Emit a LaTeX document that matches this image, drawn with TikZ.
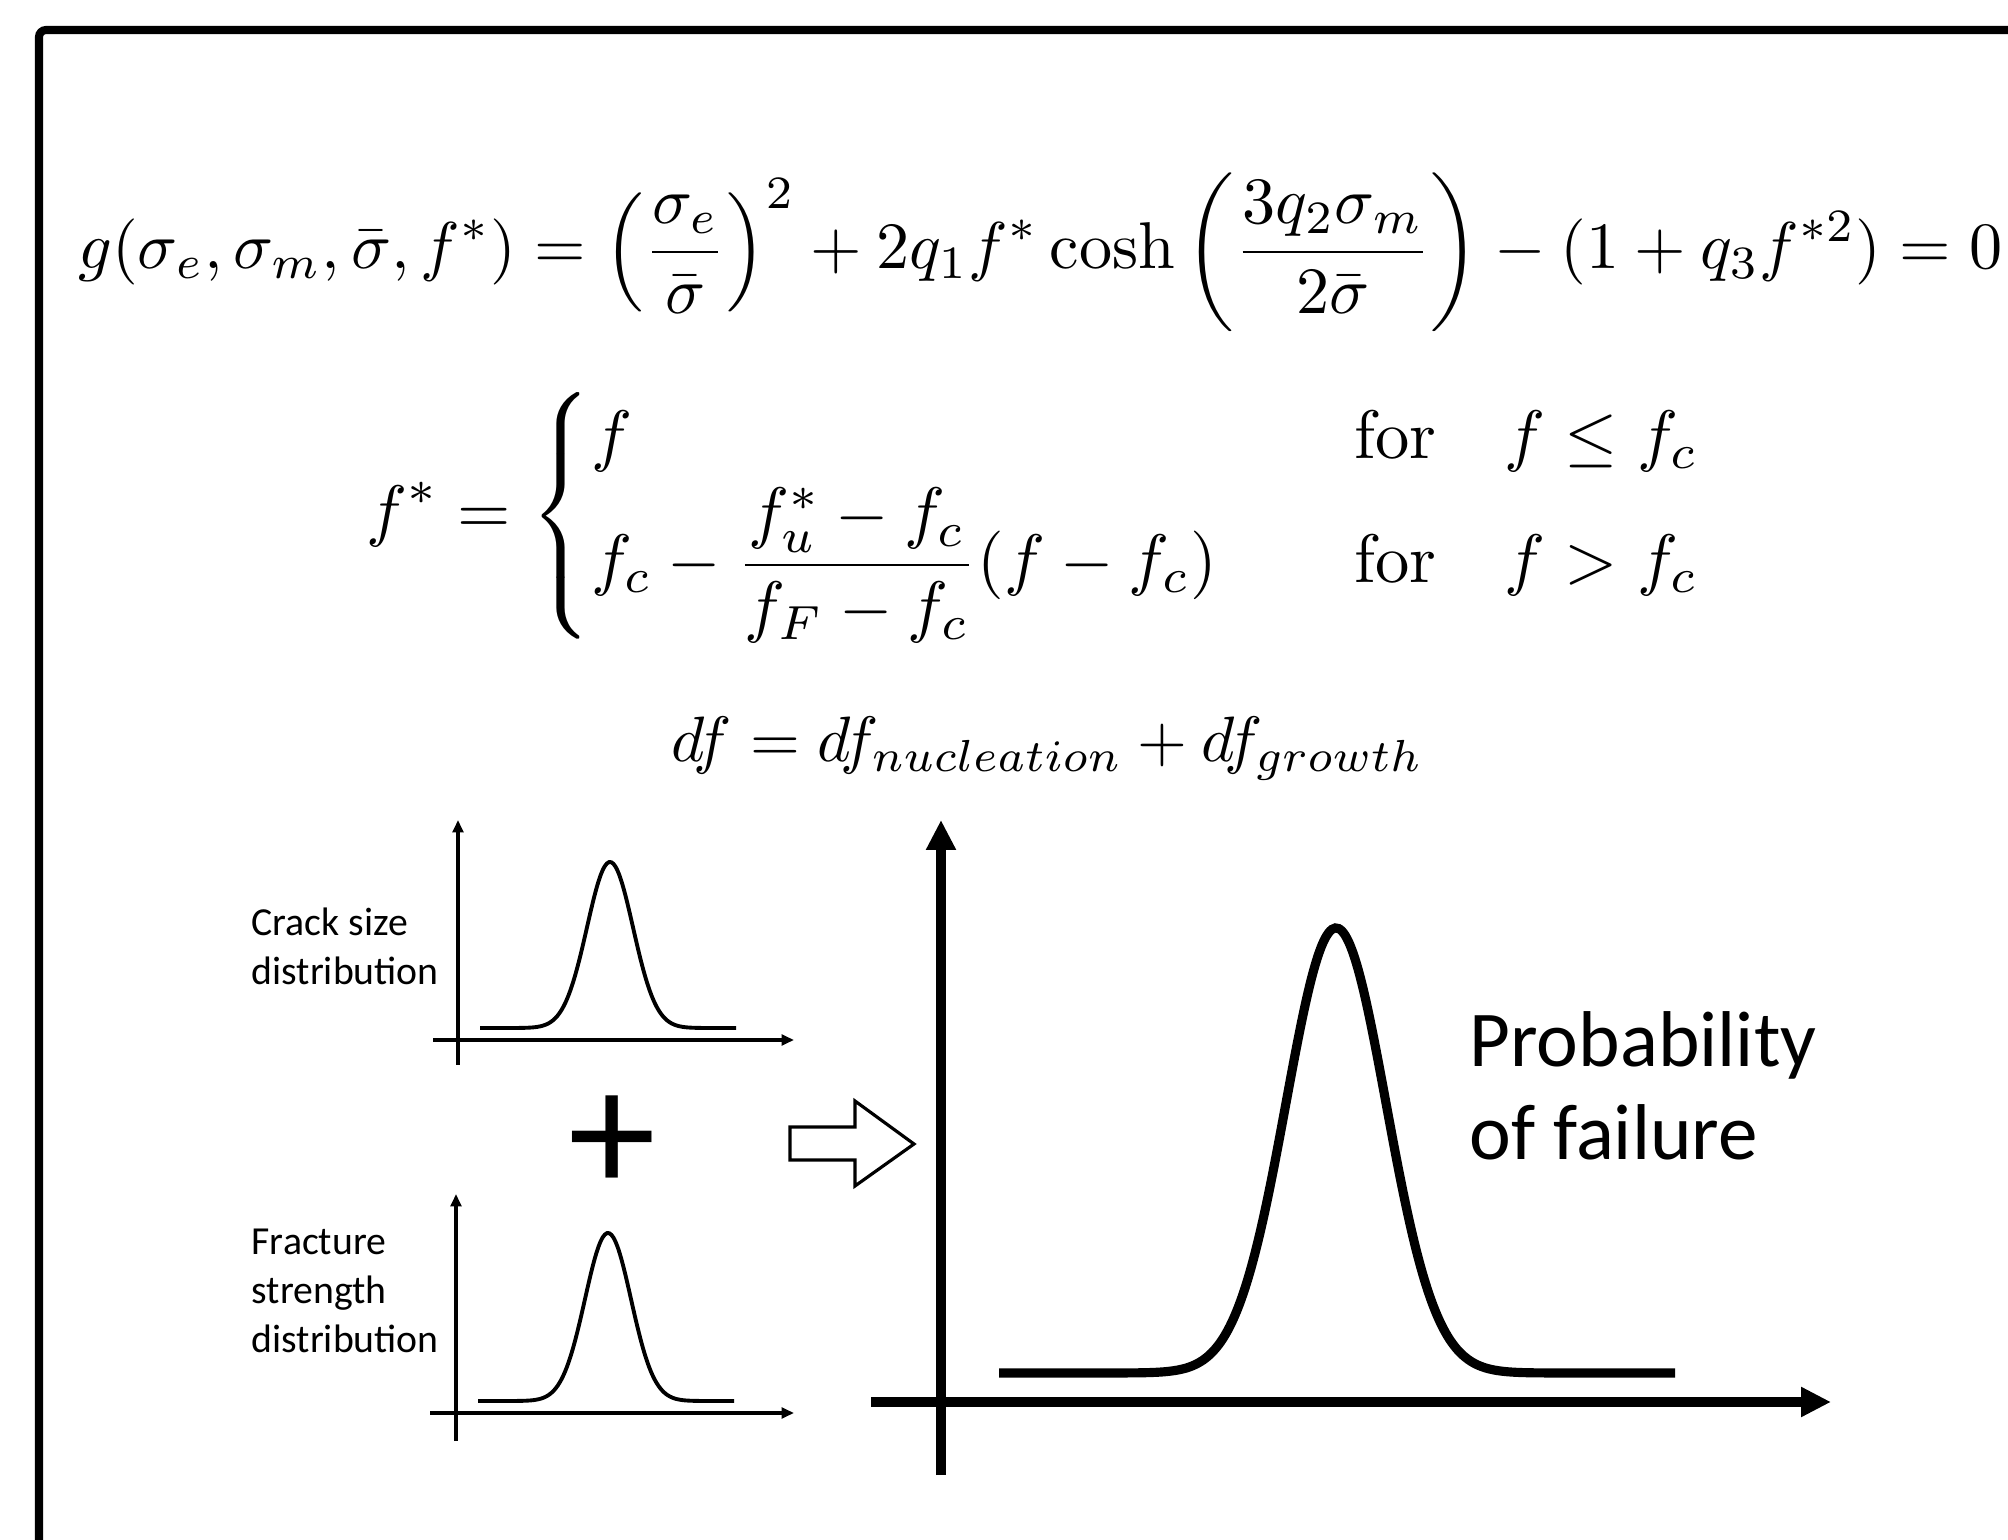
\documentclass[tikz,border=0pt]{standalone}
\usepackage{amsmath}
\usepackage{fontspec}
\newfontfamily\calibri{Carlito}
\usetikzlibrary{arrows.meta}

\begin{document}
\begin{tikzpicture}[x=0.01cm, y=-0.01cm,
    declare function={gs(\t,\m,\s)=exp(-((\t-\m)/\s)*((\t-\m)/\s)/2);},
    eq/.style={inner sep=0, scale=1.95},
    lbl/.style={inner sep=0, anchor=west, align=left, font=\calibri\fontsize{11.3}{13.9}\selectfont},
    small/.style={line width=1.1pt},
    smallax/.style={line width=1.1pt, -{Triangle[length=3.5pt, width=3pt]}},
    big/.style={line width=2.6pt},
    bigax/.style={line width=2.6pt, -{Triangle[length=8.5pt, width=8pt]}}]

    \useasboundingbox (0,0) rectangle (2008,1540);
    \clip (0,0) rectangle (2008,1540);
    \fill[white] (0,0) rectangle (2008,1540);

    % kader
    \draw[line width=2.3pt, rounded corners=2pt] (39,1600) -- (39,30) -- (2100,30);

    % formules
    \node[eq, scale=0.965, anchor=west] (yield) at (77,252)
        {$\displaystyle g(\sigma_e,\sigma_m,\bar{\sigma},f^*)=\left(\frac{\sigma_e}{\bar{\sigma}}\right)^2+2q_1f^*\cosh\left(\frac{3q_2\sigma_m}{2\bar{\sigma}}\right)-(1+q_3f^{*2})=0$};
    \node[eq, anchor=west] (fstar) at (365,516)
        {$\displaystyle f^*=\begin{cases} f & \quad\text{for}\quad f\le f_c\\ f_c-\dfrac{f_u^*-f_c}{f_F-f_c}(f-f_c) & \quad\text{for}\quad f>f_c\end{cases}$};
    \node[eq, scale=0.935, anchor=base west] (df) at (670,762)
        {$df=df_{nucleation}+df_{growth}$};

    % scheurgrootte
    \coordinate (cs-top) at (458,820);
    \coordinate (cs-bot) at (458,1065);
    \coordinate (cs-left) at (433,1040);
    \coordinate (cs-right) at (794,1040);
    \draw[smallax] (cs-bot) -- (cs-top);
    \draw[smallax] (cs-left) -- (cs-right);
    \draw[small] plot[domain=480:736, samples=120, smooth] (\x,{1028-166*gs(\x,610,23)});
    \node[lbl] (crack) at (251,946) {Crack size\\distribution};

    \node[font=\calibri\fontsize{50}{50}\selectfont, inner sep=0] (plus) at (612,1144) {+};

    % breuksterkte
    \coordinate (fs-top) at (456,1194);
    \coordinate (fs-bot) at (456,1441);
    \coordinate (fs-left) at (430,1413);
    \coordinate (fs-right) at (794,1413);
    \draw[smallax] (fs-bot) -- (fs-top);
    \draw[smallax] (fs-left) -- (fs-right);
    \draw[small] plot[domain=478:734, samples=120, smooth] (\x,{1401-168*gs(\x,608,23)});
    \node[lbl] (fract) at (251,1291) {Fracture\\strength\\distribution};

    % pijl
    \draw[line width=0.9pt] (790,1127) -- (855,1127) -- (855,1101) -- (914,1144)
        -- (855,1186) -- (855,1160) -- (790,1160) -- cycle;

    % faalkans
    \coordinate (pf-top) at (941,820);
    \coordinate (pf-bot) at (941,1475);
    \coordinate (pf-left) at (871,1402);
    \coordinate (pf-right) at (1831,1402);
    \draw[bigax] (pf-bot) -- (pf-top);
    \draw[bigax] (pf-left) -- (pf-right);
    \draw[big] plot[domain=999:1675, samples=200, smooth] (\x,{1373-445*gs(\x,1336,50)});
    \node[font=\calibri\fontsize{22.5}{26.5}\selectfont, align=left, anchor=west, inner sep=0] (pf) at (1469,1086)
        {Probability\\of failure};

\end{tikzpicture}
\end{document}
